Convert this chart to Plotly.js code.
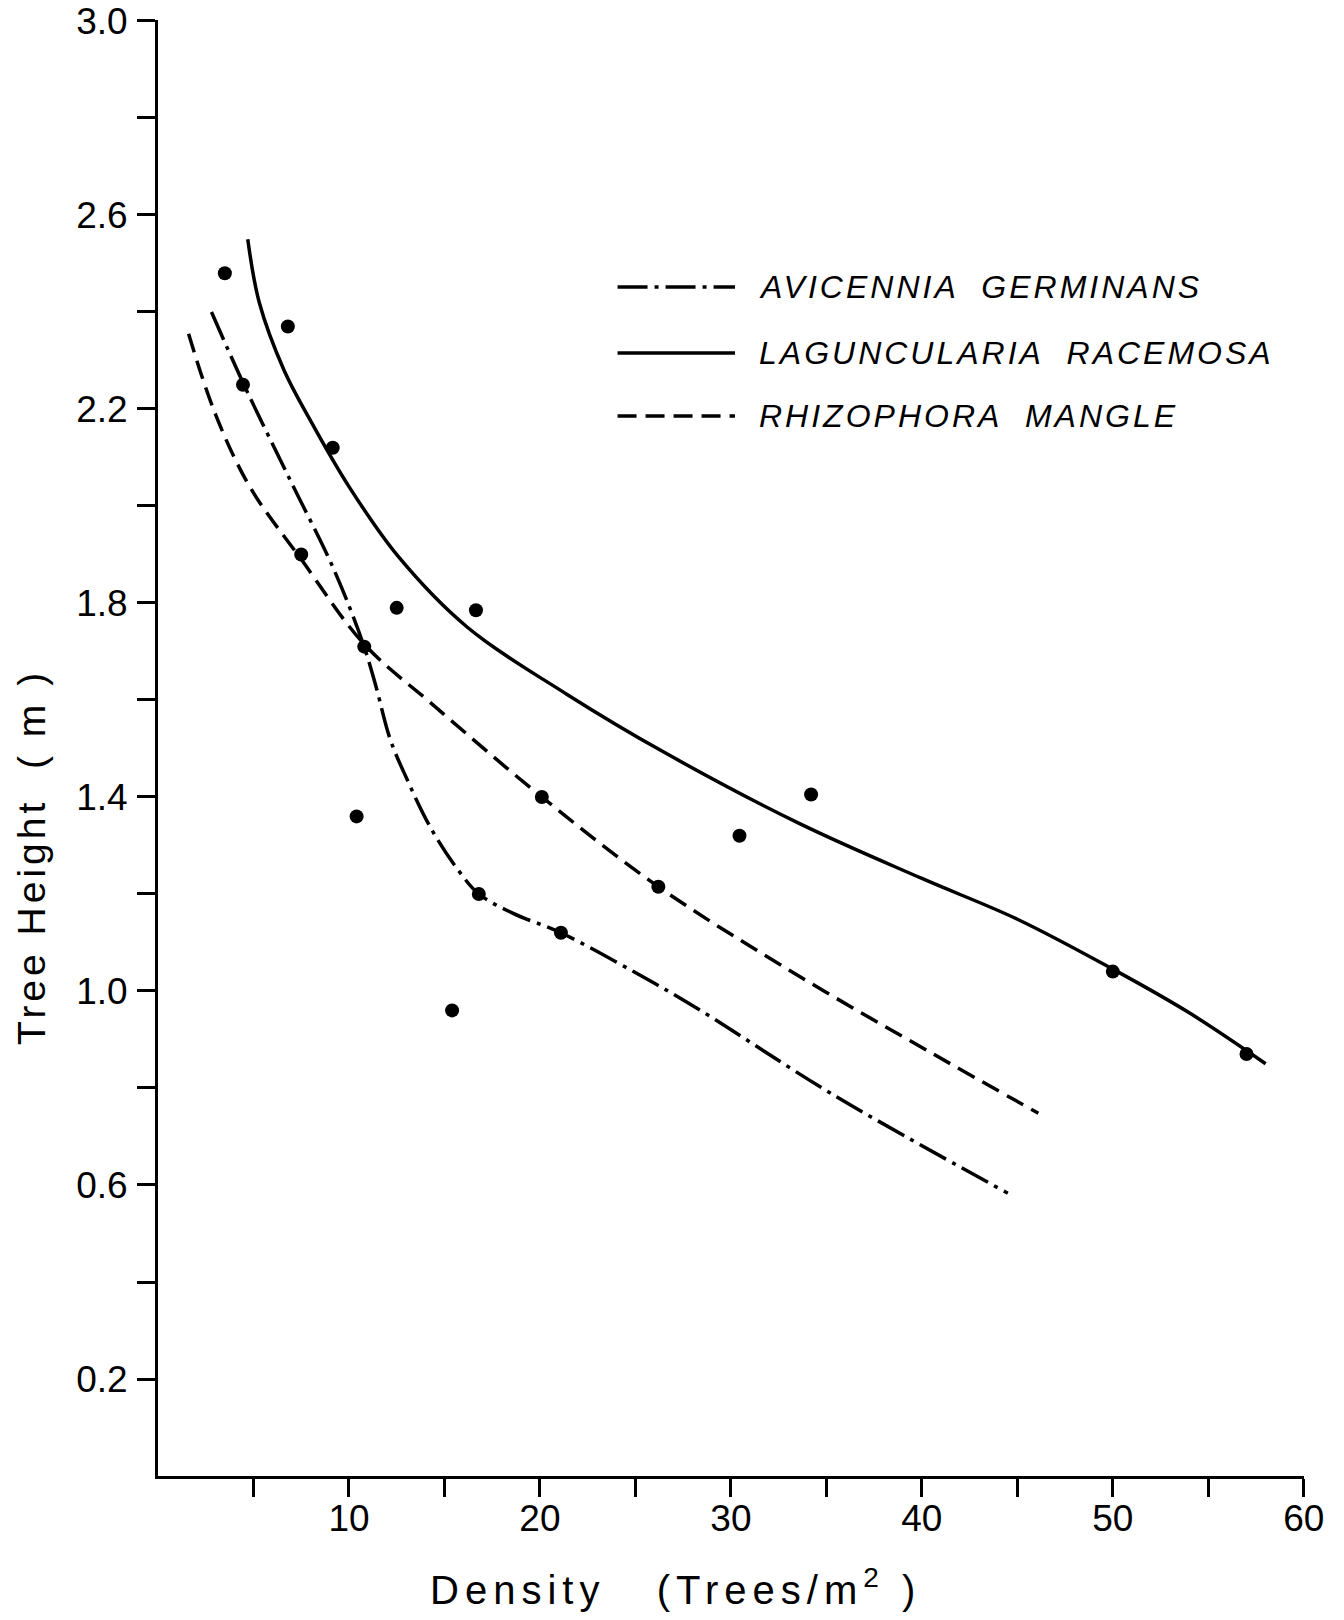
<!DOCTYPE html>
<html>
<head>
<meta charset="utf-8">
<script src="https://cdn.plot.ly/plotly-3.0.1.min.js"></script>
<style>
  body { margin: 0; background: #fff; }
  #chart { width: 1344px; height: 1620px; }
  .annotation[data-index="0"] text { letter-spacing: 6px; }
  .annotation[data-index="1"] text { letter-spacing: 4px; }
  .annotation[data-index="2"] text, .annotation[data-index="3"] text, .annotation[data-index="4"] text { letter-spacing: 3px; }
</style>
</head>
<body>
<div id="chart"></div>
<script>
// ---- Data ----
const seriesNames = ["AVICENNIA  GERMINANS", "LAGUNCULARIA  RACEMOSA", "RHIZOPHORA  MANGLE"];

// Observed points (density, tree height)
const obsDensity = [3.5, 6.8, 4.45, 9.15, 7.5, 12.5, 16.65, 10.8, 10.4, 20.1, 34.2, 30.45, 26.2, 16.8, 21.1, 15.4, 50.0, 57.0];
const obsHeight  = [2.48, 2.37, 2.25, 2.12, 1.90, 1.79, 1.785, 1.71, 1.36, 1.40, 1.405, 1.32, 1.215, 1.20, 1.12, 0.96, 1.04, 0.87];

// Fitted curves
const aviDensity = [2.8, 4.5, 6.9, 9.2, 10.75, 11.4, 12.15, 13.0, 14.3, 15.8, 16.8, 18.6, 21.1, 24.9, 28.2, 35.4, 44.5];
const aviHeight  = [2.40, 2.25, 2.055, 1.87, 1.715, 1.63, 1.52, 1.44, 1.335, 1.245, 1.20, 1.16, 1.12, 1.04, 0.965, 0.785, 0.583];

const lagDensity = [4.7, 5.3, 6.6, 8.0, 10.0, 12.6, 16.2, 21.4, 26.6, 33.6, 40.0, 45.0, 50.0, 54.0, 58.0];
const lagHeight  = [2.55, 2.42, 2.28, 2.175, 2.04, 1.895, 1.75, 1.612, 1.49, 1.345, 1.232, 1.148, 1.045, 0.955, 0.85];

const rhiDensity = [1.6, 3.0, 4.8, 7.5, 10.8, 14.4, 20.1, 26.2, 33.6, 40.6, 46.1];
const rhiHeight  = [2.355, 2.19, 2.04, 1.89, 1.715, 1.59, 1.40, 1.215, 1.03, 0.87, 0.748];

// Axis ticks
const xTickVals  = [10, 20, 30, 40, 50, 60];
const xTickText  = ["10", "20", "30", "40", "50", "60"];
const xMinorVals = [5, 15, 25, 35, 45, 55];
const yTickVals  = [0.2, 0.6, 1.0, 1.4, 1.8, 2.2, 2.6, 3.0];
const yTickText  = ["0.2", "0.6", "1.0", "1.4", "1.8", "2.2", "2.6", "3.0"];
const yMinorVals = [0.4, 0.8, 1.2, 1.6, 2.0, 2.4, 2.8];

// ---- Styles ----
const dashStyles = ["30px,7px,4px,7px", "solid", "19px,9px"];
const lineW = 3.5;
const fontFam = "Liberation Sans, Arial, sans-serif";

const traces = [
  { x: aviDensity, y: aviHeight, mode: "lines", name: seriesNames[0],
    line: { color: "#000", width: lineW, dash: dashStyles[0], shape: "spline", smoothing: 1.0 } },
  { x: lagDensity, y: lagHeight, mode: "lines", name: seriesNames[1],
    line: { color: "#000", width: lineW, dash: dashStyles[1], shape: "spline", smoothing: 1.0 } },
  { x: rhiDensity, y: rhiHeight, mode: "lines", name: seriesNames[2],
    line: { color: "#000", width: lineW, dash: dashStyles[2], shape: "spline", smoothing: 1.0 } },
  { x: obsDensity, y: obsHeight, mode: "markers", name: "observed",
    marker: { color: "#000", size: 14 } }
];

const legendRowsY = [0.8166, 0.7713, 0.728];
const legendSampleX = [0.401, 0.5035];
const legendTextX = 0.5227;

const shapes = seriesNames.map((n, i) => ({
  type: "line", xref: "paper", yref: "paper",
  x0: legendSampleX[0], x1: legendSampleX[1], y0: legendRowsY[i], y1: legendRowsY[i],
  line: { color: "#000", width: lineW, dash: dashStyles[i] }
}));

const annotations = [
  { text: "Density   (Trees/m<sup>2</sup> )", xref: "paper", yref: "paper", x: 0.452, y: -0.076,
    xanchor: "center", yanchor: "middle", showarrow: false,
    font: { family: fontFam, size: 40, color: "#000" } },
  { text: "Tree Height  ( m )", xref: "paper", yref: "paper", x: -0.111, y: 0.425,
    xanchor: "center", yanchor: "middle", textangle: -90, showarrow: false,
    font: { family: fontFam, size: 39, color: "#000" } }
].concat(seriesNames.map((n, i) => ({
  text: n, xref: "paper", yref: "paper", x: legendTextX, y: legendRowsY[i],
  xanchor: "left", yanchor: "middle", align: "left", showarrow: false,
  font: { family: fontFam, size: 32, color: "#000", style: "italic" }
})));

const axisCommon = {
  showline: true, linecolor: "#000", linewidth: 3,
  ticks: "outside", ticklen: 18, tickwidth: 3, tickcolor: "#000",
  showgrid: false, zeroline: false, fixedrange: true,
  tickfont: { family: fontFam, size: 37, color: "#000" }
};
const minorCommon = { ticks: "outside", ticklen: 18, tickwidth: 3, tickcolor: "#000", showgrid: false, tickmode: "array" };

const layout = {
  width: 1344, height: 1620,
  margin: { l: 158, r: 40, t: 20, b: 144, pad: 0 },
  paper_bgcolor: "#fff", plot_bgcolor: "#fff",
  showlegend: false,
  xaxis: Object.assign({}, axisCommon, {
    range: [0, 60.01], tickmode: "array", tickvals: xTickVals, ticktext: xTickText, ticklabelstandoff: -10,
    minor: Object.assign({}, minorCommon, { tickvals: xMinorVals })
  }),
  yaxis: Object.assign({}, axisCommon, {
    range: [0, 3.002], tickmode: "array", tickvals: yTickVals, ticktext: yTickText, ticklabelstandoff: 2,
    minor: Object.assign({}, minorCommon, { tickvals: yMinorVals })
  }),
  shapes: shapes,
  annotations: annotations
};

Plotly.newPlot("chart", traces, layout, { staticPlot: true, displayModeBar: false });
</script>
</body>
</html>
